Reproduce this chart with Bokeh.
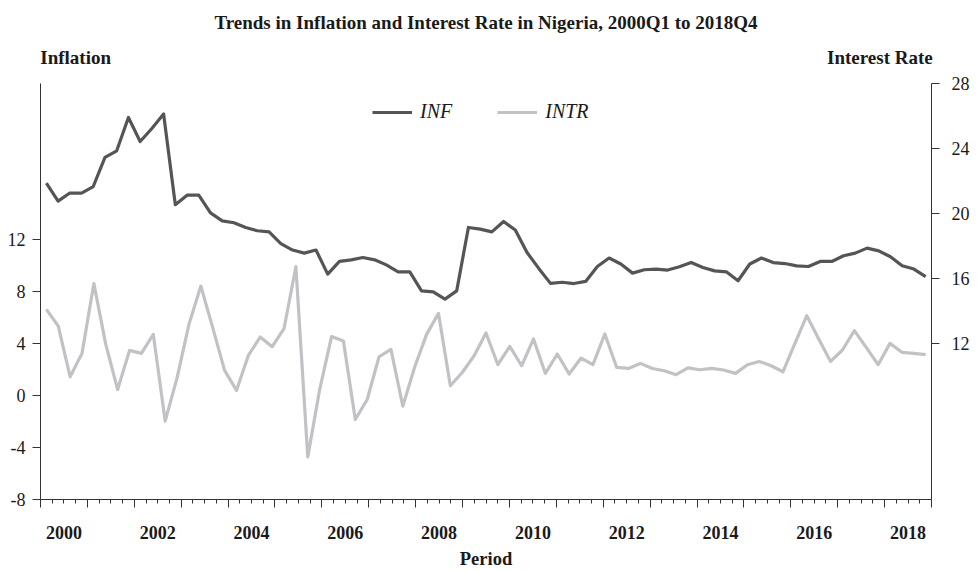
import numpy as np
from bokeh.plotting import figure
from bokeh.models import (Range1d, LinearAxis, FixedTicker, Legend, LegendItem)
from bokeh.embed import file_html
from bokeh.resources import INLINE

# ---------------- data ----------------
title_text = "Trends in Inflation and Interest Rate in Nigeria, 2000Q1 to 2018Q4"
left_axis_title = "Inflation"
right_axis_title = "Interest Rate"
x_axis_title = "Period"
first_year = 2000
n_quarters = 76
year_labels = ["2000", "2002", "2004", "2006", "2008", "2010", "2012",
               "2014", "2016", "2018"]
left_ticks = [-8, -4, 0, 4, 8, 12]
left_tick_labels = ["-8", "-4", "0", "4", "8", "12"]
right_ticks = [12, 16, 20, 24, 28]
left_limits = (-8, 24)
right_limits = (2.4, 28)

# dark series (legend "INF"), read on the right-hand scale
inf_values = [21.87, 20.76, 21.26, 21.26, 21.66, 23.45, 23.86, 25.91, 24.43, 25.23,
              26.12, 20.54, 21.13, 21.13, 20.04, 19.55, 19.43, 19.14, 18.94, 18.87,
              18.15, 17.75, 17.56, 17.75, 16.27, 17.05, 17.15, 17.29, 17.15, 16.84,
              16.41, 16.41, 15.24, 15.18, 14.73, 15.24, 19.14, 19.04, 18.87, 19.51,
              18.98, 17.60, 16.62, 15.70, 15.77, 15.69, 15.82, 16.74, 17.26, 16.89,
              16.33, 16.54, 16.58, 16.52, 16.72, 16.98, 16.68, 16.47, 16.41, 15.86,
              16.89, 17.26, 16.98, 16.92, 16.78, 16.74, 17.05, 17.05, 17.40, 17.56,
              17.87, 17.70, 17.34, 16.78, 16.58, 16.12]

# light series (legend "INTR"), read on the left-hand scale
intr_values = [6.63, 5.35, 1.44, 3.24, 8.61, 3.93, 0.46, 3.47, 3.24, 4.70,
               -1.97, 1.36, 5.47, 8.42, 5.22, 1.93, 0.39, 3.08, 4.50, 3.75,
               5.14, 9.92, -4.72, 0.45, 4.53, 4.19, -1.85, -0.31, 2.98, 3.55,
               -0.82, 2.19, 4.70, 6.32, 0.75, 1.77, 3.06, 4.81, 2.37, 3.78,
               2.29, 4.35, 1.70, 3.19, 1.65, 2.88, 2.37, 4.73, 2.16, 2.08,
               2.47, 2.08, 1.90, 1.60, 2.12, 1.98, 2.08, 1.96, 1.70, 2.37,
               2.62, 2.29, 1.83, 4.01, 6.14, 4.35, 2.62, 3.50, 4.99, 3.70,
               2.37, 4.01, 3.32, 3.24, 3.14]

# ---------------- styling ----------------
SERIF = "Liberation Serif"
DARK = "#555555"
LIGHT = "#c2c2c6"
AXIS = "#333333"
TXT = "#1a1a1a"
# where the two scale captions sit along the top (in quarters from the start)
LEFT_CAPTION_POS = 3.0
RIGHT_CAPTION_POS = 71.6

x_inf = np.arange(len(inf_values)) + 0.5
x_intr = np.linspace(0.5, n_quarters - 0.5, len(intr_values))

FW, FH = 891, 416
p = figure(frame_width=FW, frame_height=FH, output_backend="svg",
           toolbar_location=None, x_range=Range1d(0, n_quarters),
           y_range=Range1d(*left_limits),
           min_border_left=40, min_border_right=47,
           min_border_top=83, min_border_bottom=73)
p.extra_y_ranges = {"right": Range1d(*right_limits)}
p.outline_line_color = None
p.grid.grid_line_color = None
p.background_fill_color = "white"
p.border_fill_color = "white"

p.title.text = title_text
p.title.align = "center"
p.title.vertical_align = "top"
p.title.text_font = SERIF
p.title.text_font_style = "bold"
p.title.text_font_size = "19px"
p.title.text_color = TXT
p.title.standoff = 17

r_intr = p.line(x_intr, intr_values, line_color=LIGHT, line_width=3.2,
                line_join="round")
r_inf = p.line(x_inf, inf_values, line_color=DARK, line_width=3.2,
               line_join="round", y_range_name="right")

# left axis
ly = p.yaxis[0]
ly.ticker = FixedTicker(ticks=left_ticks, minor_ticks=[])
ly.major_label_overrides = {t: l for t, l in zip(left_ticks, left_tick_labels)}
ly.axis_line_color = AXIS
ly.major_tick_line_color = AXIS
ly.major_tick_out = 8
ly.major_tick_in = 0
ly.minor_tick_line_color = None
ly.major_label_standoff = 7
ly.major_label_text_font = SERIF
ly.major_label_text_font_size = "18px"
ly.major_label_text_color = TXT

# right axis
ry = LinearAxis(y_range_name="right",
                ticker=FixedTicker(ticks=right_ticks, minor_ticks=[]))
ry.axis_line_color = AXIS
ry.major_tick_line_color = AXIS
ry.major_tick_out = 8
ry.major_tick_in = 0
ry.minor_tick_line_color = None
ry.major_label_standoff = 12
ry.major_label_text_font = SERIF
ry.major_label_text_font_size = "18px"
ry.major_label_text_color = TXT
p.add_layout(ry, "right")

# bottom tick axis (year boundaries + quarters), no labels
bx = p.xaxis[0]
bx.ticker = FixedTicker(ticks=list(range(0, n_quarters + 1, 4)),
                        minor_ticks=list(range(0, n_quarters + 1)))
bx.axis_line_color = AXIS
bx.major_tick_line_color = AXIS
bx.minor_tick_line_color = AXIS
bx.major_tick_out = 8
bx.major_tick_in = 0
bx.minor_tick_out = 4
bx.minor_tick_in = 0
bx.major_label_text_color = None
bx.major_label_text_alpha = 0
bx.major_label_text_font_size = "2px"
bx.major_label_standoff = 0

# bottom label axis (year names centred in their year)
year_ticks = [(int(y) - first_year) * 4 + 2 for y in year_labels]
lx = LinearAxis(ticker=FixedTicker(ticks=year_ticks, minor_ticks=[]),
                major_label_overrides={t: l for t, l in zip(year_ticks, year_labels)})
lx.axis_line_color = None
lx.major_tick_line_color = None
lx.minor_tick_line_color = None
lx.major_label_standoff = 12
lx.major_label_text_font = SERIF
lx.major_label_text_font_style = "bold"
lx.major_label_text_font_size = "18px"
lx.major_label_text_color = TXT
lx.axis_label = x_axis_title
lx.axis_label_standoff = 7
lx.axis_label_text_font = SERIF
lx.axis_label_text_font_style = "bold"
lx.axis_label_text_font_size = "18.5px"
lx.axis_label_text_color = TXT
p.add_layout(lx, "below")

# top captions for the two scales
cap_ticks = [LEFT_CAPTION_POS, RIGHT_CAPTION_POS]
tx = LinearAxis(ticker=FixedTicker(ticks=cap_ticks, minor_ticks=[]),
                major_label_overrides={LEFT_CAPTION_POS: left_axis_title,
                                       RIGHT_CAPTION_POS: right_axis_title})
tx.axis_line_color = None
tx.major_tick_line_color = None
tx.minor_tick_line_color = None
tx.major_tick_out = 0
tx.major_label_standoff = 16
tx.major_label_text_font = SERIF
tx.major_label_text_font_style = "bold"
tx.major_label_text_font_size = "19px"
tx.major_label_text_color = TXT
p.add_layout(tx, "above")

legend = Legend(items=[LegendItem(label="INF", renderers=[r_inf]),
                       LegendItem(label="INTR", renderers=[r_intr])],
                orientation="horizontal", location=(332, 376),
                glyph_width=40, glyph_height=20, label_standoff=8, spacing=45,
                padding=0, margin=0, border_line_color=None,
                background_fill_alpha=0, label_text_font=SERIF,
                label_text_font_style="italic", label_text_font_size="20px",
                label_text_color=TXT)
p.add_layout(legend)

open("out.html", "w").write(file_html(p, INLINE))
